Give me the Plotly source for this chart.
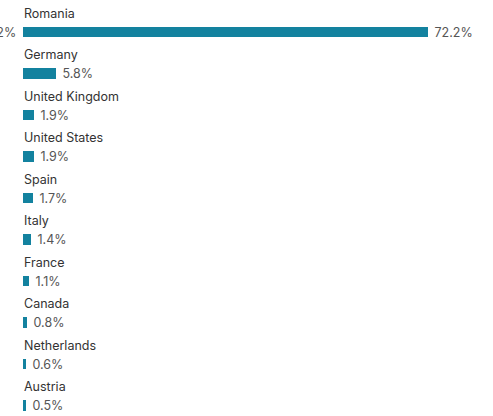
import plotly.graph_objects as go

countries = ['Romania', 'Germany', 'United Kingdom', 'United States', 'Spain',
             'Italy', 'France', 'Canada', 'Netherlands', 'Austria']
shares = [72.2, 5.8, 1.9, 1.9, 1.7, 1.4, 1.1, 0.8, 0.6, 0.5]

rows = list(range(len(countries)))
bar_color = '#13829f'
font_family = 'Inter'

fig = go.Figure()

fig.add_trace(go.Bar(
    x=shares,
    y=rows,
    orientation='h',
    width=0.25,
    marker=dict(color=bar_color, line=dict(width=0)),
    text=[f' {v}%' for v in shares],
    textposition='outside',
    constraintext='none',
    cliponaxis=False,
    textfont=dict(family=font_family, size=12.5, color='#555555'),
    hoverinfo='skip'
))

# country names above each bar
for r, name in zip(rows, countries):
    fig.add_annotation(
        x=0, y=r - 0.45, xref='x', yref='y',
        text=name, showarrow=False,
        xanchor='left', yanchor='middle', xshift=-1,
        font=dict(family=font_family, size=12.5, color='#333333')
    )

# leftover label cut off at the left edge, as in the source
fig.add_annotation(
    x=0, y=0, xref='x', yref='y',
    text=f'{shares[0]}%', showarrow=False,
    xanchor='right', yanchor='middle', xshift=-5,
    font=dict(family=font_family, size=12.5, color='#555555')
)

fig.update_layout(
    width=493,
    height=416,
    margin=dict(l=23, r=0, t=0, b=0),
    paper_bgcolor='white',
    plot_bgcolor='white',
    showlegend=False,
    bargap=0,
    xaxis=dict(range=[0, 83.8], visible=False, fixedrange=True),
    yaxis=dict(range=[9.25, -0.771], visible=False, fixedrange=True),
)

fig.write_html('out.html', config={'displayModeBar': False},
               post_script="document.body.style.margin='0';")
